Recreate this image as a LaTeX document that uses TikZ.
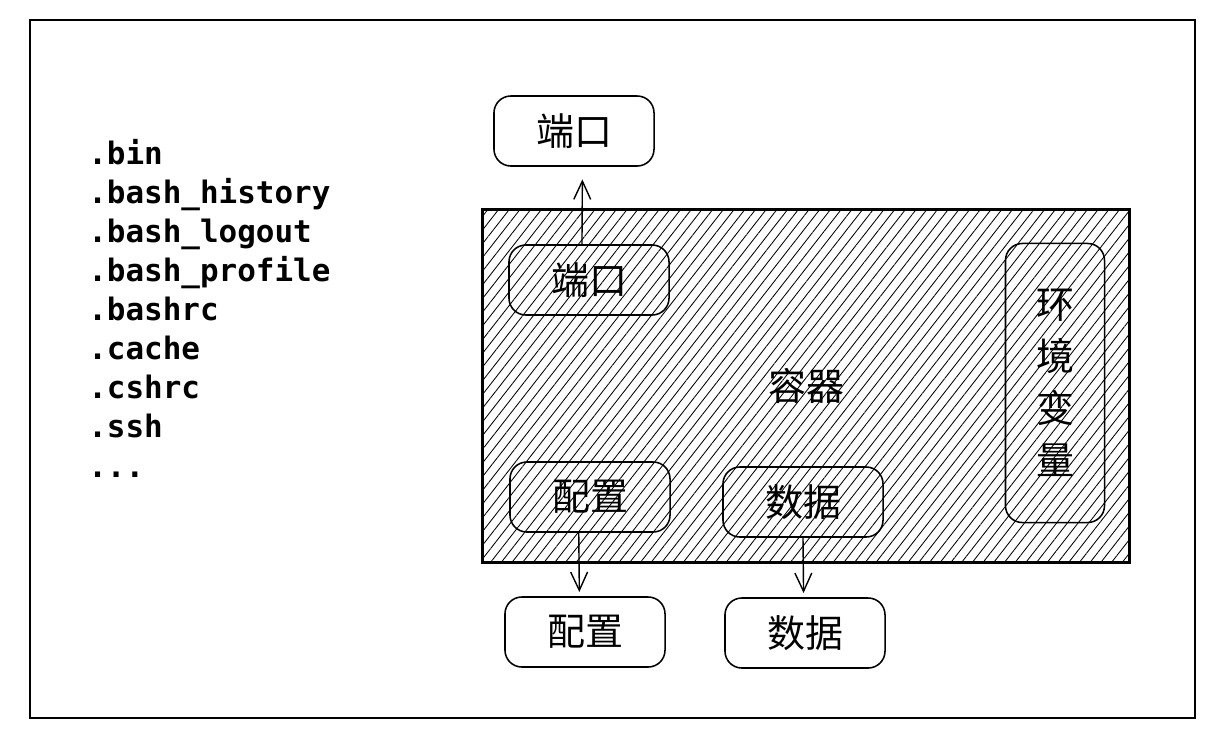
\documentclass[tikz,border=0pt]{standalone}
\usepackage{fontspec}
\newfontfamily\cjk{Noto Sans CJK SC}
\setmonofont{DejaVu Sans Mono}
\usetikzlibrary{arrows.meta,patterns.meta}

\begin{document}
\begin{tikzpicture}[
  x=0.025cm, y=-0.025cm,
  every node/.style={font=\cjk\fontsize{27}{37}\selectfont},
  rbox/.style={draw, rounded corners=12pt, line width=1.1pt, minimum width=4cm, minimum height=1.75cm, inner sep=0pt},
  flow/.style={draw, line width=1pt, -{Straight Barb[length=13pt,width=12pt,line width=1pt]}},
  file/.style={anchor=base west, font=\ttfamily\bfseries\fontsize{22}{26}\selectfont, inner sep=0pt}
]
\useasboundingbox (0,0) rectangle (1218,738);
\draw[line width=1.4pt] (30,20) rectangle (1195,718);

% file list
\foreach \f [count=\i from 0] in {.bin, .bash\symbol{95}history, .bash\symbol{95}logout, .bash\symbol{95}profile, .bashrc, .cache, .cshrc, .ssh}
  \node[file] (f\i) at (88,{164+39.1*\i}) {\f};
\node[file] (fmore) at (88,477) {...};

% container
\node[draw, line width=1.6pt, minimum width=16.175cm, minimum height=8.825cm,
  pattern={Lines[angle=52,distance=6pt,line width=0.6pt]}] (box) at (806,386) {容器};

\node[rbox] (pin) at (589,280) {端口};
\node[rbox] (cin) at (590,497) {配置};
\node[rbox] (din) at (803,502) {数据};
\node[rbox, minimum width=2.475cm, minimum height=6.975cm, align=center] (env) at (1055,383) {环\\境\\变\\量};

\node[rbox] (pout) at (574,131) {端口};
\node[rbox] (cout) at (585,632) {配置};
\node[rbox] (dout) at (805,633) {数据};

\draw[flow, shorten >=9pt] ([xshift=-5pt]pin.north) -- ([xshift=6pt]pout.south);
\draw[flow, shorten >=3pt] ([xshift=-8pt]cin.south) -- ([xshift=-4pt]cout.north);
\draw[flow, shorten >=3pt] (din.south) -- ([xshift=-1pt]dout.north);
\end{tikzpicture}
\end{document}
